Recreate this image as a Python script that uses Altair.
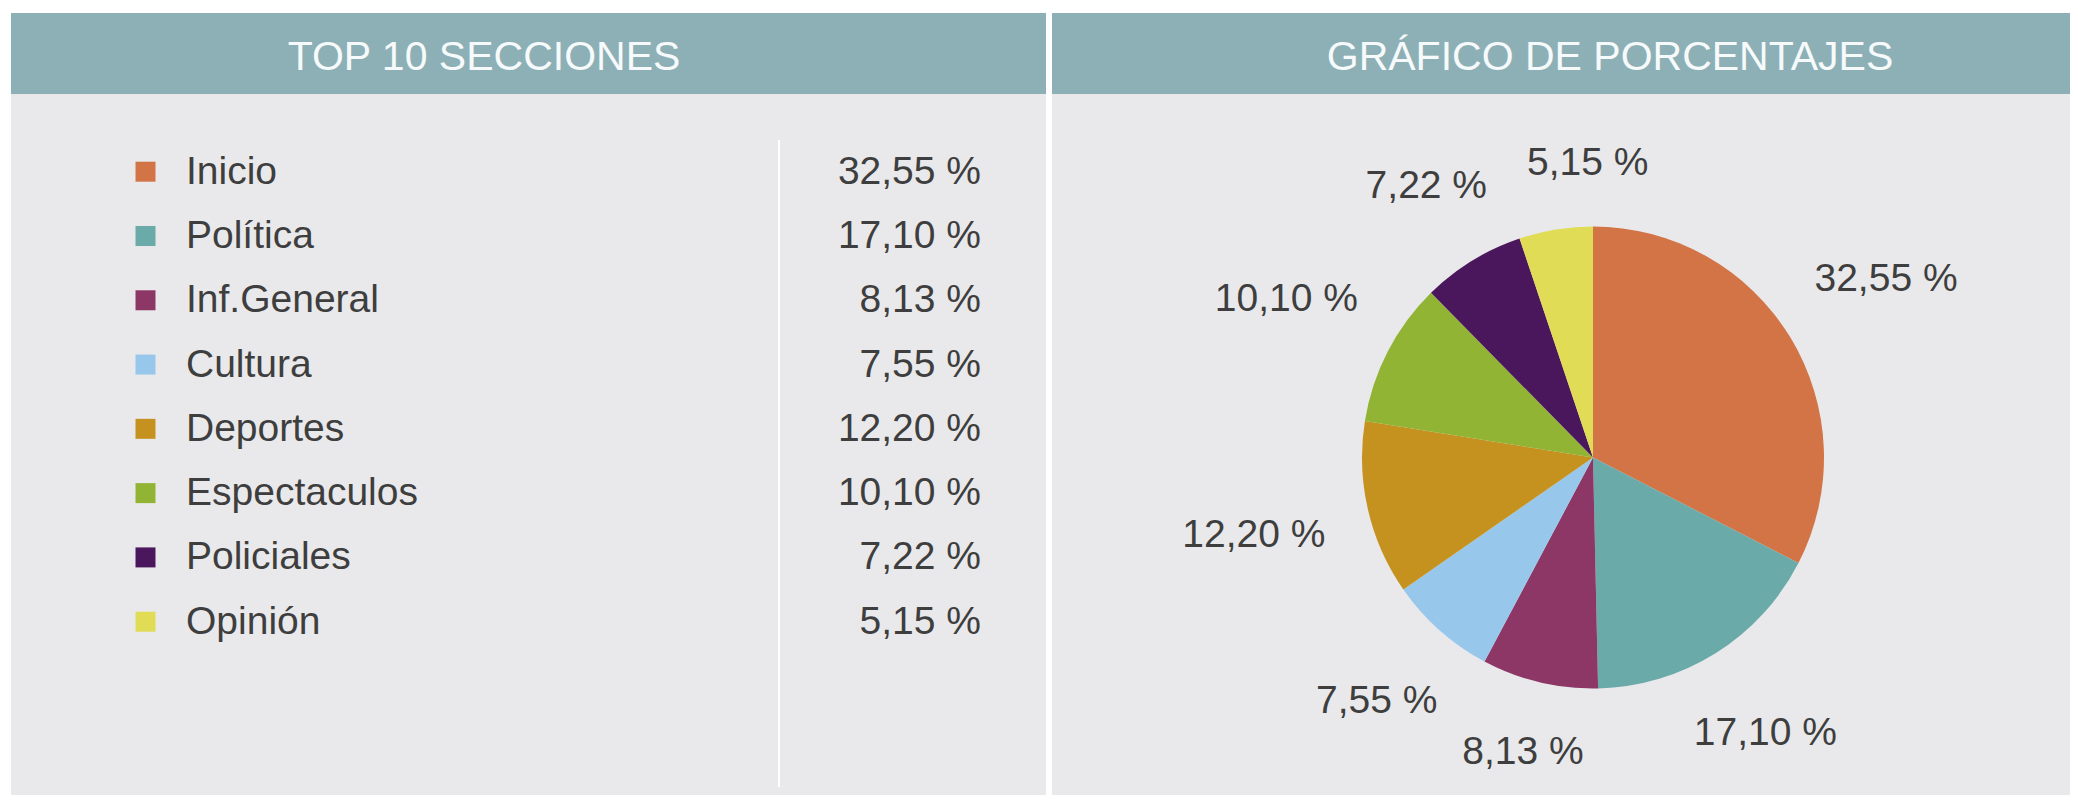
import altair as alt
import pandas as pd

# ---- data ----
secciones = ["Inicio", "Política", "Inf.General", "Cultura", "Deportes",
             "Espectaculos", "Policiales", "Opinión"]
porcentajes = [32.55, 17.10, 8.13, 7.55, 12.20, 10.10, 7.22, 5.15]
colores = ["#D27446", "#6AAAA8", "#8D3767", "#97C7EA", "#C6921F",
           "#92B434", "#4B175C", "#E0DC55"]
titulo_izq = "TOP 10 SECCIONES"
titulo_der = "GRÁFICO DE PORCENTAJES"

etiquetas = [f"{v:.2f}".replace(".", ",") + " %" for v in porcentajes]
df = pd.DataFrame({
    "seccion": secciones,
    "valor": porcentajes,
    "etiqueta": etiquetas,
    "orden": list(range(len(secciones))),
})

# ---- layout / style ----
W, H = 2062, 787
FONT = "Liberation Sans"
BG = "#E9E9EB"
HEAD = "#8DB0B7"
TXT = "#3E3E3E"
CX, CY = 1585, 449.5
R_PIE = 231
FS = 39

one = alt.Data(values=[{}])


def rect(x, x2, y, y2, color):
    return alt.Chart(one).mark_rect(color=color).encode(
        x=alt.value(x), x2=alt.value(x2), y=alt.value(y), y2=alt.value(y2))


def title(txt, x, y):
    return alt.Chart(one).mark_text(
        text=txt, font=FONT, fontSize=41, color="#F6FAFA",
        align="center", baseline="middle").encode(x=alt.value(x), y=alt.value(y))


color = alt.Color("seccion:N", scale=alt.Scale(domain=secciones, range=colores),
                  legend=None)
ypos = alt.Y("seccion:N", sort=secciones,
             scale=alt.Scale(domain=secciones, range=[163.7, 613.7], padding=0),
             axis=None)

base = alt.Chart(df)

squares = base.mark_square(size=400, filled=True, opacity=1).encode(
    x=alt.value(137.5), y=ypos, color=color)
names = base.mark_text(align="left", baseline="middle", font=FONT,
                       fontSize=FS, color=TXT).encode(
    x=alt.value(178), y=ypos, text="seccion:N")
values = base.mark_text(align="right", baseline="middle", font=FONT,
                        fontSize=FS, color=TXT).encode(
    x=alt.value(973), y=ypos, text="etiqueta:N")

divider = alt.Chart(one).mark_rule(color="white", strokeWidth=2).encode(
    x=alt.value(771), y=alt.value(132), y2=alt.value(779))

pie = base.mark_arc(radius=R_PIE).encode(
    theta=alt.Theta("valor:Q", stack=True),
    color=color,
    order=alt.Order("orden:Q"),
    x=alt.value(CX), y=alt.value(CY))

# labels: outside the slice mid-angle, text box kept clear of the pie;
# a label that would collide with the previous one is pushed clockwise.
pie_labels = base.transform_joinaggregate(
    total="sum(valor)"
).transform_window(
    cum="sum(valor)", sort=[alt.SortField("orden")], frame=[None, 0]
).transform_calculate(
    mid="2 * PI * (datum.cum - datum.valor / 2) / datum.total",
    halfw=f"{FS} * (0.556 * (length(datum.etiqueta) - 3) + 1.445) / 2",
).transform_calculate(
    r=f"{R_PIE} + 44 + datum.halfw * abs(sin(datum.mid)) + 14 * abs(cos(datum.mid))"
).transform_calculate(
    px="datum.r * sin(datum.mid)",
    py="-datum.r * cos(datum.mid)",
).transform_window(
    prev_px="lag(px)", prev_py="lag(py)", prev_hw="lag(halfw)",
    sort=[alt.SortField("orden")],
).transform_calculate(
    need="isValid(datum.prev_px) && abs(datum.py - datum.prev_py) < 34 ? "
         "datum.halfw + datum.prev_hw + 40 - abs(datum.px - datum.prev_px) : 0"
).transform_calculate(
    px2="datum.px + (datum.need > 0 ? datum.need * (cos(datum.mid) >= 0 ? 1 : -1) : 0)"
).transform_calculate(
    ang="atan2(datum.px2, -datum.py)",
    rad="sqrt(datum.px2 * datum.px2 + datum.py * datum.py)",
).mark_text(font=FONT, fontSize=FS, color=TXT,
            align="center", baseline="middle").encode(
    theta=alt.Theta("ang:Q", scale=None, stack=None),
    radius=alt.Radius("rad:Q", scale=None),
    text="etiqueta:N",
    x=alt.value(CX), y=alt.value(CY))

chart = alt.layer(
    rect(3, 1038, 5, H, BG),
    rect(1044, W, 5, H, BG),
    rect(3, 1038, 5, 86, HEAD),
    rect(1044, W, 5, 86, HEAD),
    title(titulo_izq, 476, 50),
    title(titulo_der, 1602, 50),
    divider,
    squares, names, values,
    pie, pie_labels,
).resolve_scale(
    theta="independent", radius="independent"
).properties(
    width=W, height=H, background="white", padding=0, autosize="none"
).configure_view(stroke=None)

chart.save("out.html", embed_options={"renderer": "svg", "actions": False})
